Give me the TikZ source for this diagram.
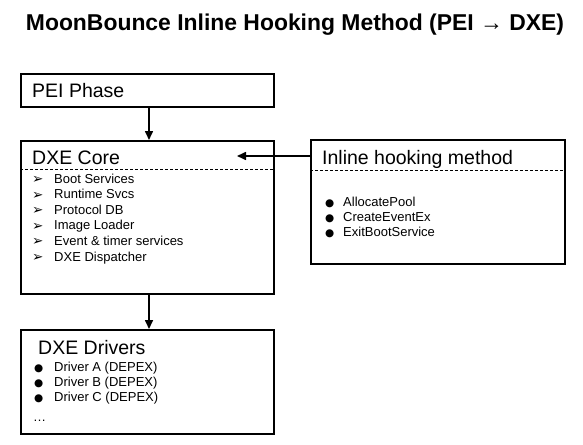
\documentclass[tikz,border=0pt]{standalone}
\usepackage{fontspec}
\setmainfont{Liberation Sans}
\newfontfamily\symfont{DejaVu Sans}
\usetikzlibrary{arrows.meta}
\tikzset{
  box/.style={draw, line width=1.8pt, anchor=north west, inner sep=0pt},
  hdr/.style={anchor=base west, inner sep=0pt, font=\fontsize{19.5}{22}\selectfont},
  itm/.style={anchor=base west, inner sep=0pt, font=\fontsize{13}{15}\selectfont},
  bul/.style={anchor=base west, inner sep=0pt, font=\symfont\fontsize{10.5}{13}\selectfont},
  arw/.style={anchor=base west, inner sep=0pt, font=\symfont\fontsize{13.5}{15}\selectfont},
  sep/.style={dashed, line width=0.8pt, dash pattern=on 3pt off 2pt},
  arr/.style={line width=1.6pt, -{Triangle[length=9pt,width=8pt]}},
}
\begin{document}
\begin{tikzpicture}[x=1pt,y=-1pt]
\useasboundingbox (0,0) rectangle (583,444);
% title
\node[anchor=base, inner sep=0pt, font=\bfseries\fontsize{22.9}{26}\selectfont] (title) at (295,31) {MoonBounce Inline Hooking Method (PEI → DXE)};
% boxes
\node[box, minimum width=253pt, minimum height=33pt] (pei) at (20,73) {};
\node[box, minimum width=253pt, minimum height=153pt] (core) at (20,140) {};
\node[box, minimum width=254pt, minimum height=124pt] (hook) at (310,139) {};
\node[box, minimum width=253pt, minimum height=104pt] (drv) at (20,329) {};
% PEI
\node[hdr] (peit) at (32,97) {PEI Phase};
% DXE Core
\node[hdr] (coret) at (32,164.5) {DXE Core};
\draw[sep] (core.west |- 0,169) -- (core.east |- 0,169);
\foreach \t [count=\i from 0] in {Boot Services, Runtime Svcs, Protocol DB, Image Loader, Event \& timer services, DXE Dispatcher}{
  \node[arw] (cm\i) at (32,183.5+15.6*\i) {➢};
  \node[itm] (ci\i) at (54,183+15.6*\i) {\t};
}
% hook
\node[hdr] (hookt) at (322,164) {Inline hooking method};
\draw[sep] (hook.west |- 0,170) -- (hook.east |- 0,170);
\foreach \t [count=\i from 0] in {AllocatePool, CreateEventEx, ExitBootService}{
  \node[bul] (hm\i) at (325,206.6+15*\i) {●};
  \node[itm] (hi\i) at (343,206.6+15*\i) {\t};
}
% drivers
\node[hdr] (drvt) at (38,354) {DXE Drivers};
\foreach \t [count=\i from 0] in {Driver A (DEPEX), Driver B (DEPEX), Driver C (DEPEX)}{
  \node[bul] (dm\i) at (34,371.6+15*\i) {●};
  \node[itm] (di\i) at (54,371.6+15*\i) {\t};
}
\node[itm] (dots) at (33,421) {\dots};
% connectors
\coordinate (xa) at (149,0);
\coordinate (hk) at (237,156);
\draw[arr] (pei.south -| xa) -- (core.north -| xa);
\draw[arr] (core.south -| xa) -- (drv.north -| xa);
\draw[arr] (hook.west |- hk) -- (hk);
\end{tikzpicture}
\end{document}
